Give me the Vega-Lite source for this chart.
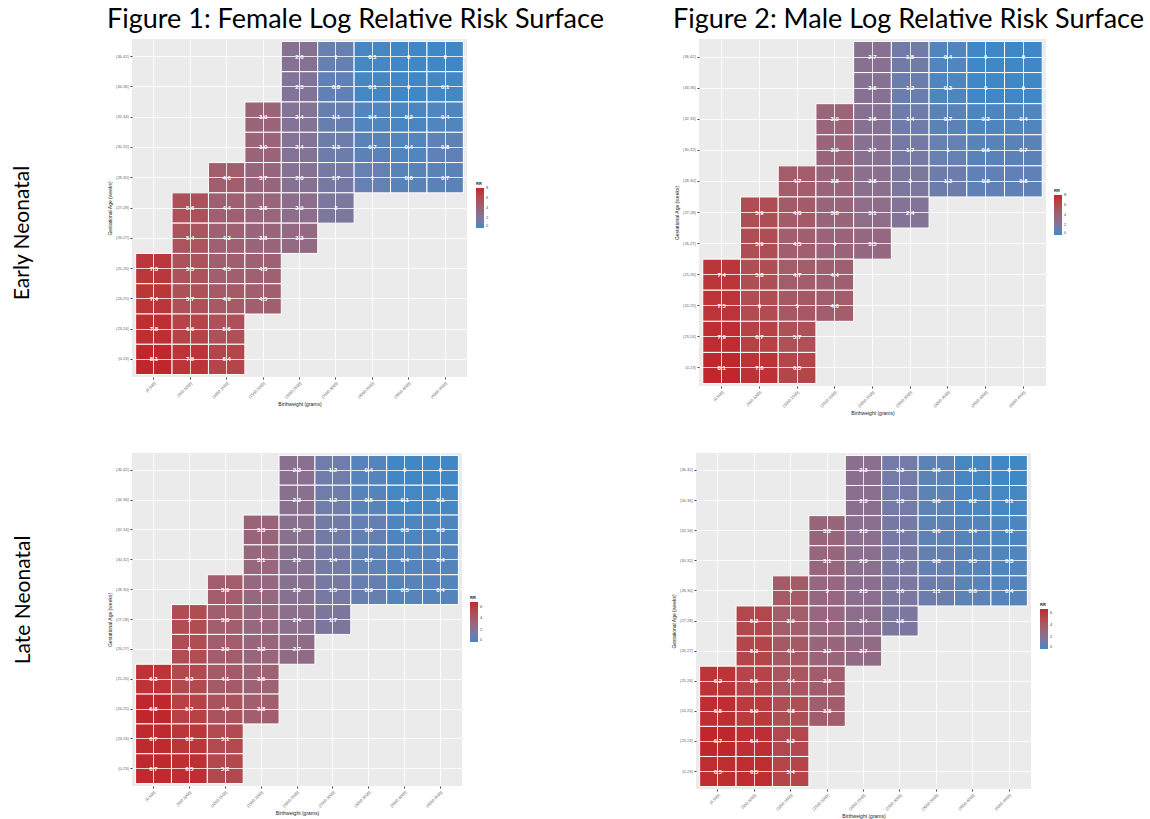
{
  "$schema": "https://vega.github.io/schema/vega-lite/v6.json",
  "padding": {"left": 12, "top": 6, "right": 0, "bottom": 0},
  "background": "white",
  "datasets": {
    "fe": [
      {"bw":"(2000,2500]","ga":"(36,42]","rr":2.6},{"bw":"(2500,3000]","ga":"(36,42]","rr":1},{"bw":"(3000,3500]","ga":"(36,42]","rr":0.1},{"bw":"(3500,4000]","ga":"(36,42]","rr":0},{"bw":"(4000,4500]","ga":"(36,42]","rr":0},
      {"bw":"(2000,2500]","ga":"(34,36]","rr":2.3},{"bw":"(2500,3000]","ga":"(34,36]","rr":0.8},{"bw":"(3000,3500]","ga":"(34,36]","rr":0.1},{"bw":"(3500,4000]","ga":"(34,36]","rr":0},{"bw":"(4000,4500]","ga":"(34,36]","rr":0.1},
      {"bw":"(1500,2000]","ga":"(32,34]","rr":3.9},{"bw":"(2000,2500]","ga":"(32,34]","rr":2.4},{"bw":"(2500,3000]","ga":"(32,34]","rr":1.1},{"bw":"(3000,3500]","ga":"(32,34]","rr":0.4},{"bw":"(3500,4000]","ga":"(32,34]","rr":0.2},{"bw":"(4000,4500]","ga":"(32,34]","rr":0.4},
      {"bw":"(1500,2000]","ga":"(30,32]","rr":3.9},{"bw":"(2000,2500]","ga":"(30,32]","rr":2.4},{"bw":"(2500,3000]","ga":"(30,32]","rr":1.3},{"bw":"(3000,3500]","ga":"(30,32]","rr":0.7},{"bw":"(3500,4000]","ga":"(30,32]","rr":0.4},{"bw":"(4000,4500]","ga":"(30,32]","rr":0.8},
      {"bw":"(1000,1500]","ga":"(28,30]","rr":4.6},{"bw":"(1500,2000]","ga":"(28,30]","rr":3.7},{"bw":"(2000,2500]","ga":"(28,30]","rr":2.6},{"bw":"(2500,3000]","ga":"(28,30]","rr":1.7},{"bw":"(3000,3500]","ga":"(28,30]","rr":1},{"bw":"(3500,4000]","ga":"(28,30]","rr":0.6},{"bw":"(4000,4500]","ga":"(28,30]","rr":0.7},
      {"bw":"(500,1000]","ga":"(27,28]","rr":5.6},{"bw":"(1000,1500]","ga":"(27,28]","rr":4.4},{"bw":"(1500,2000]","ga":"(27,28]","rr":3.8},{"bw":"(2000,2500]","ga":"(27,28]","rr":2.9},{"bw":"(2500,3000]","ga":"(27,28]","rr":2},
      {"bw":"(500,1000]","ga":"(26,27]","rr":5.4},{"bw":"(1000,1500]","ga":"(26,27]","rr":4.3},{"bw":"(1500,2000]","ga":"(26,27]","rr":3.8},{"bw":"(2000,2500]","ga":"(26,27]","rr":3.3},
      {"bw":"(0,500]","ga":"(25,26]","rr":7.3},{"bw":"(500,1000]","ga":"(25,26]","rr":5.5},{"bw":"(1000,1500]","ga":"(25,26]","rr":4.5},{"bw":"(1500,2000]","ga":"(25,26]","rr":4.3},
      {"bw":"(0,500]","ga":"(24,25]","rr":7.4},{"bw":"(500,1000]","ga":"(24,25]","rr":5.7},{"bw":"(1000,1500]","ga":"(24,25]","rr":4.9},{"bw":"(1500,2000]","ga":"(24,25]","rr":4.5},
      {"bw":"(0,500]","ga":"(23,24]","rr":7.8},{"bw":"(500,1000]","ga":"(23,24]","rr":6.6},{"bw":"(1000,1500]","ga":"(23,24]","rr":5.6},
      {"bw":"(0,500]","ga":"(0,23]","rr":8.1},{"bw":"(500,1000]","ga":"(0,23]","rr":7.5},{"bw":"(1000,1500]","ga":"(0,23]","rr":6.4}
    ],
    "me": [
      {"bw":"(2000,2500]","ga":"(36,42]","rr":2.7},{"bw":"(2500,3000]","ga":"(36,42]","rr":1.5},{"bw":"(3000,3500]","ga":"(36,42]","rr":0.4},{"bw":"(3500,4000]","ga":"(36,42]","rr":0},{"bw":"(4000,4500]","ga":"(36,42]","rr":0},
      {"bw":"(2000,2500]","ga":"(34,36]","rr":2.6},{"bw":"(2500,3000]","ga":"(34,36]","rr":1.2},{"bw":"(3000,3500]","ga":"(34,36]","rr":0.3},{"bw":"(3500,4000]","ga":"(34,36]","rr":0},{"bw":"(4000,4500]","ga":"(34,36]","rr":0},
      {"bw":"(1500,2000]","ga":"(32,34]","rr":3.9},{"bw":"(2000,2500]","ga":"(32,34]","rr":2.6},{"bw":"(2500,3000]","ga":"(32,34]","rr":1.4},{"bw":"(3000,3500]","ga":"(32,34]","rr":0.7},{"bw":"(3500,4000]","ga":"(32,34]","rr":0.3},{"bw":"(4000,4500]","ga":"(32,34]","rr":0.4},
      {"bw":"(1500,2000]","ga":"(30,32]","rr":3.9},{"bw":"(2000,2500]","ga":"(30,32]","rr":2.7},{"bw":"(2500,3000]","ga":"(30,32]","rr":1.7},{"bw":"(3000,3500]","ga":"(30,32]","rr":1},{"bw":"(3500,4000]","ga":"(30,32]","rr":0.6},{"bw":"(4000,4500]","ga":"(30,32]","rr":0.7},
      {"bw":"(1000,1500]","ga":"(28,30]","rr":4.7},{"bw":"(1500,2000]","ga":"(28,30]","rr":3.8},{"bw":"(2000,2500]","ga":"(28,30]","rr":2.8},{"bw":"(2500,3000]","ga":"(28,30]","rr":2},{"bw":"(3000,3500]","ga":"(28,30]","rr":1.3},{"bw":"(3500,4000]","ga":"(28,30]","rr":0.8},{"bw":"(4000,4500]","ga":"(28,30]","rr":0.8},
      {"bw":"(500,1000]","ga":"(27,28]","rr":5.9},{"bw":"(1000,1500]","ga":"(27,28]","rr":4.8},{"bw":"(1500,2000]","ga":"(27,28]","rr":3.8},{"bw":"(2000,2500]","ga":"(27,28]","rr":3.1},{"bw":"(2500,3000]","ga":"(27,28]","rr":2.4},
      {"bw":"(500,1000]","ga":"(26,27]","rr":5.9},{"bw":"(1000,1500]","ga":"(26,27]","rr":4.5},{"bw":"(1500,2000]","ga":"(26,27]","rr":4},{"bw":"(2000,2500]","ga":"(26,27]","rr":3.5},
      {"bw":"(0,500]","ga":"(25,26]","rr":7.4},{"bw":"(500,1000]","ga":"(25,26]","rr":5.8},{"bw":"(1000,1500]","ga":"(25,26]","rr":4.7},{"bw":"(1500,2000]","ga":"(25,26]","rr":4.4},
      {"bw":"(0,500]","ga":"(24,25]","rr":7.5},{"bw":"(500,1000]","ga":"(24,25]","rr":6},{"bw":"(1000,1500]","ga":"(24,25]","rr":5},{"bw":"(1500,2000]","ga":"(24,25]","rr":4.6},
      {"bw":"(0,500]","ga":"(23,24]","rr":7.9},{"bw":"(500,1000]","ga":"(23,24]","rr":6.7},{"bw":"(1000,1500]","ga":"(23,24]","rr":5.7},
      {"bw":"(0,500]","ga":"(0,23]","rr":8.1},{"bw":"(500,1000]","ga":"(0,23]","rr":7.6},{"bw":"(1000,1500]","ga":"(0,23]","rr":6.5}
    ],
    "fl": [
      {"bw":"(2000,2500]","ga":"(36,42]","rr":2.3},{"bw":"(2500,3000]","ga":"(36,42]","rr":1.2},{"bw":"(3000,3500]","ga":"(36,42]","rr":0.4},{"bw":"(3500,4000]","ga":"(36,42]","rr":0},{"bw":"(4000,4500]","ga":"(36,42]","rr":0},
      {"bw":"(2000,2500]","ga":"(34,36]","rr":2.3},{"bw":"(2500,3000]","ga":"(34,36]","rr":1.2},{"bw":"(3000,3500]","ga":"(34,36]","rr":0.5},{"bw":"(3500,4000]","ga":"(34,36]","rr":0.1},{"bw":"(4000,4500]","ga":"(34,36]","rr":0.1},
      {"bw":"(1500,2000]","ga":"(32,34]","rr":3.3},{"bw":"(2000,2500]","ga":"(32,34]","rr":2.3},{"bw":"(2500,3000]","ga":"(32,34]","rr":1.3},{"bw":"(3000,3500]","ga":"(32,34]","rr":0.8},{"bw":"(3500,4000]","ga":"(32,34]","rr":0.3},{"bw":"(4000,4500]","ga":"(32,34]","rr":0.3},
      {"bw":"(1500,2000]","ga":"(30,32]","rr":3.1},{"bw":"(2000,2500]","ga":"(30,32]","rr":2.2},{"bw":"(2500,3000]","ga":"(30,32]","rr":1.4},{"bw":"(3000,3500]","ga":"(30,32]","rr":0.7},{"bw":"(3500,4000]","ga":"(30,32]","rr":0.4},{"bw":"(4000,4500]","ga":"(30,32]","rr":0.4},
      {"bw":"(1000,1500]","ga":"(28,30]","rr":3.9},{"bw":"(1500,2000]","ga":"(28,30]","rr":3},{"bw":"(2000,2500]","ga":"(28,30]","rr":2.2},{"bw":"(2500,3000]","ga":"(28,30]","rr":1.5},{"bw":"(3000,3500]","ga":"(28,30]","rr":0.9},{"bw":"(3500,4000]","ga":"(28,30]","rr":0.5},{"bw":"(4000,4500]","ga":"(28,30]","rr":0.4},
      {"bw":"(500,1000]","ga":"(27,28]","rr":5},{"bw":"(1000,1500]","ga":"(27,28]","rr":3.8},{"bw":"(1500,2000]","ga":"(27,28]","rr":3},{"bw":"(2000,2500]","ga":"(27,28]","rr":2.4},{"bw":"(2500,3000]","ga":"(27,28]","rr":1.7},
      {"bw":"(500,1000]","ga":"(26,27]","rr":5},{"bw":"(1000,1500]","ga":"(26,27]","rr":3.9},{"bw":"(1500,2000]","ga":"(26,27]","rr":3.2},{"bw":"(2000,2500]","ga":"(26,27]","rr":2.7},
      {"bw":"(0,500]","ga":"(25,26]","rr":6.3},{"bw":"(500,1000]","ga":"(25,26]","rr":5.2},{"bw":"(1000,1500]","ga":"(25,26]","rr":4.1},{"bw":"(1500,2000]","ga":"(25,26]","rr":3.5},
      {"bw":"(0,500]","ga":"(24,25]","rr":6.8},{"bw":"(500,1000]","ga":"(24,25]","rr":5.7},{"bw":"(1000,1500]","ga":"(24,25]","rr":4.6},{"bw":"(1500,2000]","ga":"(24,25]","rr":3.8},
      {"bw":"(0,500]","ga":"(23,24]","rr":6.7},{"bw":"(500,1000]","ga":"(23,24]","rr":6.2},{"bw":"(1000,1500]","ga":"(23,24]","rr":5.1},
      {"bw":"(0,500]","ga":"(0,23]","rr":6.7},{"bw":"(500,1000]","ga":"(0,23]","rr":6.5},{"bw":"(1000,1500]","ga":"(0,23]","rr":5.2}
    ],
    "ml": [
      {"bw":"(2000,2500]","ga":"(36,42]","rr":2.3},{"bw":"(2500,3000]","ga":"(36,42]","rr":1.3},{"bw":"(3000,3500]","ga":"(36,42]","rr":0.6},{"bw":"(3500,4000]","ga":"(36,42]","rr":0.1},{"bw":"(4000,4500]","ga":"(36,42]","rr":0},
      {"bw":"(2000,2500]","ga":"(34,36]","rr":2.3},{"bw":"(2500,3000]","ga":"(34,36]","rr":1.3},{"bw":"(3000,3500]","ga":"(34,36]","rr":0.6},{"bw":"(3500,4000]","ga":"(34,36]","rr":0.2},{"bw":"(4000,4500]","ga":"(34,36]","rr":0.1},
      {"bw":"(1500,2000]","ga":"(32,34]","rr":3.2},{"bw":"(2000,2500]","ga":"(32,34]","rr":2.3},{"bw":"(2500,3000]","ga":"(32,34]","rr":1.4},{"bw":"(3000,3500]","ga":"(32,34]","rr":0.6},{"bw":"(3500,4000]","ga":"(32,34]","rr":0.4},{"bw":"(4000,4500]","ga":"(32,34]","rr":0.2},
      {"bw":"(1500,2000]","ga":"(30,32]","rr":3.1},{"bw":"(2000,2500]","ga":"(30,32]","rr":2.3},{"bw":"(2500,3000]","ga":"(30,32]","rr":1.5},{"bw":"(3000,3500]","ga":"(30,32]","rr":0.8},{"bw":"(3500,4000]","ga":"(30,32]","rr":0.5},{"bw":"(4000,4500]","ga":"(30,32]","rr":0.3},
      {"bw":"(1000,1500]","ga":"(28,30]","rr":4},{"bw":"(1500,2000]","ga":"(28,30]","rr":3},{"bw":"(2000,2500]","ga":"(28,30]","rr":2.3},{"bw":"(2500,3000]","ga":"(28,30]","rr":1.6},{"bw":"(3000,3500]","ga":"(28,30]","rr":1.1},{"bw":"(3500,4000]","ga":"(28,30]","rr":0.6},{"bw":"(4000,4500]","ga":"(28,30]","rr":0.4},
      {"bw":"(500,1000]","ga":"(27,28]","rr":5.2},{"bw":"(1000,1500]","ga":"(27,28]","rr":3.9},{"bw":"(1500,2000]","ga":"(27,28]","rr":3},{"bw":"(2000,2500]","ga":"(27,28]","rr":2.4},{"bw":"(2500,3000]","ga":"(27,28]","rr":1.6},
      {"bw":"(500,1000]","ga":"(26,27]","rr":5.3},{"bw":"(1000,1500]","ga":"(26,27]","rr":4.1},{"bw":"(1500,2000]","ga":"(26,27]","rr":3.2},{"bw":"(2000,2500]","ga":"(26,27]","rr":2.7},
      {"bw":"(0,500]","ga":"(25,26]","rr":6.2},{"bw":"(500,1000]","ga":"(25,26]","rr":5.5},{"bw":"(1000,1500]","ga":"(25,26]","rr":4.4},{"bw":"(1500,2000]","ga":"(25,26]","rr":3.8},
      {"bw":"(0,500]","ga":"(24,25]","rr":6.5},{"bw":"(500,1000]","ga":"(24,25]","rr":5.9},{"bw":"(1000,1500]","ga":"(24,25]","rr":4.8},{"bw":"(1500,2000]","ga":"(24,25]","rr":3.8},
      {"bw":"(0,500]","ga":"(23,24]","rr":6.7},{"bw":"(500,1000]","ga":"(23,24]","rr":6.4},{"bw":"(1000,1500]","ga":"(23,24]","rr":5.2},
      {"bw":"(0,500]","ga":"(0,23]","rr":6.5},{"bw":"(500,1000]","ga":"(0,23]","rr":6.5},{"bw":"(1000,1500]","ga":"(0,23]","rr":5.4}
    ]
  },
  "vconcat": [
    {
      "title": {"text": "Early Neonatal", "orient": "left", "anchor": "middle", "offset": 74, "dx": -22, "fontSize": 21, "font": "Lato", "fontWeight": "normal", "color": "black"},
      "bounds": "flush",
      "spacing": 232,
      "hconcat": [
        {
          "width": 335, "height": 338,
          "title": {"text": "Figure 1: Female Log Relative Risk Surface", "offset": 5, "dx": 56},
          "data": {"name": "fe"},
          "encoding": {
            "x": {"field": "bw", "type": "ordinal", "scale": {"domain": ["(0,500]","(500,1000]","(1000,1500]","(1500,2000]","(2000,2500]","(2500,3000]","(3000,3500]","(3500,4000]","(4000,4500]"], "paddingInner": 0, "paddingOuter": 0.1}, "axis": {"title": "Birthweight (grams)", "labelAngle": -45}},
            "y": {"field": "ga", "type": "ordinal", "scale": {"domain": ["(36,42]","(34,36]","(32,34]","(30,32]","(28,30]","(27,28]","(26,27]","(25,26]","(24,25]","(23,24]","(0,23]"], "paddingInner": 0, "paddingOuter": 0.08}, "axis": {"title": "Gestational Age (weeks)"}}
          },
          "layer": [
            {"mark": {"type": "rect", "stroke": "white", "strokeWidth": 1},
             "encoding": {"color": {"field": "rr", "type": "quantitative", "scale": {"domain": [0, 8.1], "range": ["#3f88c5", "#c0272d"], "interpolate": "lab"}, "legend": {"title": "RR", "orient": "none", "legendX": 344, "legendY": 143, "values": [0, 2, 4, 6, 8]}}}},
            {"mark": {"type": "text", "color": "white", "fontSize": 6, "fontWeight": "bold"}, "encoding": {"text": {"field": "rr", "type": "quantitative"}}}
          ]
        },
        {
          "width": 347, "height": 347,
          "title": {"text": "Figure 2: Male Log Relative Risk Surface", "offset": 5, "dx": 36},
          "data": {"name": "me"},
          "encoding": {
            "x": {"field": "bw", "type": "ordinal", "scale": {"domain": ["(0,500]","(500,1000]","(1000,1500]","(1500,2000]","(2000,2500]","(2500,3000]","(3000,3500]","(3500,4000]","(4000,4500]"], "paddingInner": 0, "paddingOuter": 0.1}, "axis": {"title": "Birthweight (grams)", "labelAngle": -45}},
            "y": {"field": "ga", "type": "ordinal", "scale": {"domain": ["(36,42]","(34,36]","(32,34]","(30,32]","(28,30]","(27,28]","(26,27]","(25,26]","(24,25]","(23,24]","(0,23]"], "paddingInner": 0, "paddingOuter": 0.08}, "axis": {"title": "Gestational Age (weeks)"}}
          },
          "layer": [
            {"mark": {"type": "rect", "stroke": "white", "strokeWidth": 1},
             "encoding": {"color": {"field": "rr", "type": "quantitative", "scale": {"domain": [0, 8.1], "range": ["#3f88c5", "#c0272d"], "interpolate": "lab"}, "legend": {"title": "RR", "orient": "none", "legendX": 355, "legendY": 150, "values": [0, 2, 4, 6, 8]}}}},
            {"mark": {"type": "text", "color": "white", "fontSize": 6, "fontWeight": "bold"}, "encoding": {"text": {"field": "rr", "type": "quantitative"}}}
          ]
        }
      ],
      "resolve": {"scale": {"color": "independent"}, "legend": {"color": "independent"}}
    },
    {
      "title": {"text": "Late Neonatal", "orient": "left", "anchor": "middle", "offset": 74, "dx": 36, "fontSize": 21, "font": "Lato", "fontWeight": "normal", "color": "black"},
      "bounds": "flush",
      "spacing": 234,
      "hconcat": [
        {
          "width": 330, "height": 333,
          "data": {"name": "fl"},
          "encoding": {
            "x": {"field": "bw", "type": "ordinal", "scale": {"domain": ["(0,500]","(500,1000]","(1000,1500]","(1500,2000]","(2000,2500]","(2500,3000]","(3000,3500]","(3500,4000]","(4000,4500]"], "paddingInner": 0, "paddingOuter": 0.1}, "axis": {"title": "Birthweight (grams)", "labelAngle": -45}},
            "y": {"field": "ga", "type": "ordinal", "scale": {"domain": ["(36,42]","(34,36]","(32,34]","(30,32]","(28,30]","(27,28]","(26,27]","(25,26]","(24,25]","(23,24]","(0,23]"], "paddingInner": 0, "paddingOuter": 0.08}, "axis": {"title": "Gestational Age (weeks)"}}
          },
          "layer": [
            {"mark": {"type": "rect", "stroke": "white", "strokeWidth": 1},
             "encoding": {"color": {"field": "rr", "type": "quantitative", "scale": {"domain": [0, 6.8], "range": ["#3f88c5", "#c0272d"], "interpolate": "lab"}, "legend": {"title": "RR", "orient": "none", "legendX": 338, "legendY": 143, "values": [0, 2, 4, 6]}}}},
            {"mark": {"type": "text", "color": "white", "fontSize": 6, "fontWeight": "bold"}, "encoding": {"text": {"field": "rr", "type": "quantitative"}}}
          ]
        },
        {
          "width": 335, "height": 336,
          "data": {"name": "ml"},
          "encoding": {
            "x": {"field": "bw", "type": "ordinal", "scale": {"domain": ["(0,500]","(500,1000]","(1000,1500]","(1500,2000]","(2000,2500]","(2500,3000]","(3000,3500]","(3500,4000]","(4000,4500]"], "paddingInner": 0, "paddingOuter": 0.1}, "axis": {"title": "Birthweight (grams)", "labelAngle": -45}},
            "y": {"field": "ga", "type": "ordinal", "scale": {"domain": ["(36,42]","(34,36]","(32,34]","(30,32]","(28,30]","(27,28]","(26,27]","(25,26]","(24,25]","(23,24]","(0,23]"], "paddingInner": 0, "paddingOuter": 0.08}, "axis": {"title": "Gestational Age (weeks)"}}
          },
          "layer": [
            {"mark": {"type": "rect", "stroke": "white", "strokeWidth": 1},
             "encoding": {"color": {"field": "rr", "type": "quantitative", "scale": {"domain": [0, 6.7], "range": ["#3f88c5", "#c0272d"], "interpolate": "lab"}, "legend": {"title": "RR", "orient": "none", "legendX": 344, "legendY": 150, "values": [0, 2, 4, 6]}}}},
            {"mark": {"type": "text", "color": "white", "fontSize": 6, "fontWeight": "bold"}, "encoding": {"text": {"field": "rr", "type": "quantitative"}}}
          ]
        }
      ],
      "resolve": {"scale": {"color": "independent"}, "legend": {"color": "independent"}}
    }
  ],
  "spacing": 37,
  "resolve": {"scale": {"color": "independent"}, "legend": {"color": "independent"}},
  "config": {
    "font": "Liberation Sans",
    "view": {"fill": "#ebebeb", "stroke": null},
    "title": {"font": "Lato", "fontSize": 27, "fontWeight": "normal", "color": "black", "anchor": "middle"},
    "axis": {"grid": true, "gridColor": "white", "gridWidth": 0.8, "domain": false, "tickColor": "#444", "tickSize": 2, "labelFontSize": 4, "labelColor": "#666", "labelPadding": 2, "titleFontSize": 5, "titleFontWeight": "normal", "titleColor": "#222", "titlePadding": 3, "bandPosition": 0.5},
    "legend": {"padding": 0, "gradientLength": 40, "gradientThickness": 8, "labelFontSize": 4, "titleFontSize": 4, "titlePadding": 2, "labelColor": "#444", "titleColor": "#222", "gradientStrokeWidth": 0}
  }
}
